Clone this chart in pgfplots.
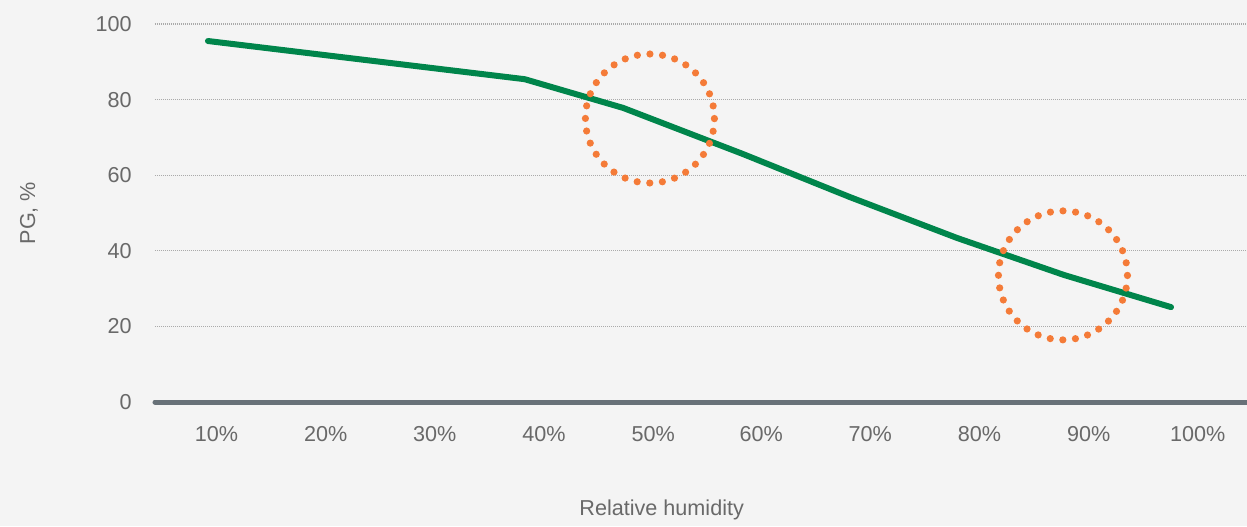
\documentclass[border=0pt]{standalone}
\usepackage{fontspec}
\setmainfont{Liberation Sans}
\usepackage{pgfplots}
\pgfplotsset{compat=1.18}

\definecolor{bg}{RGB}{244,244,244}
\definecolor{pgreen}{RGB}{0,133,75}
\definecolor{porange}{RGB}{244,123,56}
\definecolor{zeroline}{RGB}{104,113,120}
\definecolor{gridc}{RGB}{170,170,170}
\definecolor{txt}{RGB}{105,105,105}

\begin{document}
\begin{tikzpicture}
\fill[bg] (-77.5pt,-62pt) rectangle (546pt,201pt);
\begin{axis}[
  scale only axis,
  width=546pt, height=189pt,
  xmin=5.05, xmax=107.1,
  ymin=0, ymax=100,
  clip=false,
  axis line style={draw=none},
  tick style={draw=none},
  font=\fontsize{10.8}{13}\selectfont,
  /pgf/number format/assume math mode=true,
  ytick={20,40,60,80,100},
  ymajorgrids,
  major grid style={gridc, line width=0.6pt, dash pattern=on 0.5pt off 0.5pt},
  extra y ticks={0},
  extra y tick style={grid=major, major grid style={solid, zeroline, line width=2.5pt, line cap=round}},
  yticklabel style={anchor=east, inner sep=0pt, xshift=-11.5pt, text=txt},
  xtick={10.8,21,31.2,41.4,51.6,61.7,71.9,82.1,92.3,102.5},
  xticklabels={10\%,20\%,30\%,40\%,50\%,60\%,70\%,80\%,90\%,100\%},
  xticklabel style={anchor=center, inner sep=0pt, yshift=-16.25pt, text=txt},
  xlabel={Relative humidity},
  ylabel={PG, \%},
  xlabel style={at={(axis description cs:0.464,-0.2857)}, anchor=center, text=txt},
  ylabel style={at={(axis description cs:-0.1154,0.5)}, anchor=center, text=txt},
]
\addplot[pgreen, line width=3pt, line cap=round, line join=round]
  coordinates {(10,95.5) (39.6,85.4) (48.8,77.8) (60,65.6) (70,54.2) (80,43.4) (90,33.6) (100,25.1)};
\addplot[only marks, mark=o, mark size=32.25pt, line width=3.6pt,
  mark options={porange, line width=3.6pt, line cap=round, dash pattern=on 0pt off 6.33pt}]
  coordinates {(51.3,75) (89.9,33.5)};
\end{axis}
\pgfresetboundingbox
\path (-77.5pt,-62pt) rectangle (546pt,201pt);
\end{tikzpicture}
\end{document}
